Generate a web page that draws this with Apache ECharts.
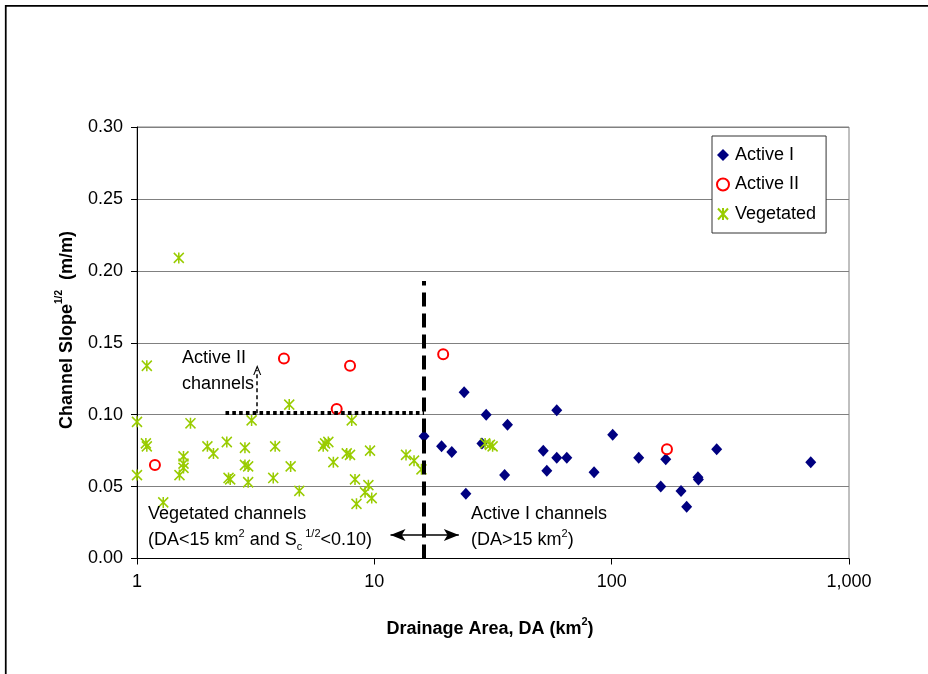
<!DOCTYPE html>
<html>
<head>
<meta charset="utf-8">
<script src="https://cdn.jsdelivr.net/npm/echarts@6/dist/echarts.min.js"></script>
<style>
  html, body { margin: 0; padding: 0; background: #fff; }
  #chart { width: 928px; height: 674px; }
</style>
</head>
<body>
<div id="chart"></div>
<script>
// Drainage area (km²) vs. channel slope^1/2 (m/m), one [DA, slope] pair per channel
const activeI = [
  [16.2, 0.085], [23.9, 0.1156], [29.6, 0.100], [58.7, 0.103], [36.4, 0.093],
  [19.2, 0.078], [21.2, 0.074], [28.4, 0.080], [51.5, 0.075], [58.7, 0.070],
  [64.7, 0.070], [53.3, 0.061], [35.4, 0.058], [24.3, 0.045], [101, 0.086],
  [130, 0.070], [169, 0.069], [277, 0.076], [84.3, 0.060], [161, 0.050],
  [196, 0.047], [207, 0.036], [231, 0.0565], [232, 0.055], [690, 0.067]
];
const activeII = [
  [1.19, 0.065], [4.16, 0.139], [7.90, 0.134], [6.94, 0.104], [19.5, 0.142], [171, 0.076]
];
const vegetated = [
  [1.00, 0.095], [1.68, 0.094], [3.04, 0.096], [1.09, 0.080], [1.10, 0.078],
  [1.98, 0.078], [2.10, 0.073], [2.39, 0.081], [2.85, 0.077], [3.82, 0.078],
  [1.57, 0.071], [1.57, 0.066], [1.57, 0.063], [1.51, 0.058], [1.00, 0.058],
  [2.85, 0.065], [2.94, 0.064], [2.43, 0.056], [2.47, 0.055], [2.94, 0.053],
  [3.75, 0.056], [1.29, 0.039], [1.50, 0.209], [1.10, 0.134], [4.38, 0.107],
  [8.03, 0.096], [6.20, 0.080], [6.40, 0.081], [6.09, 0.078], [7.65, 0.073],
  [7.90, 0.072], [9.59, 0.075], [6.72, 0.067], [4.44, 0.064], [8.29, 0.055],
  [9.44, 0.051], [9.14, 0.046], [9.75, 0.042], [8.41, 0.038], [4.83, 0.047],
  [13.6, 0.072], [14.7, 0.068], [15.8, 0.062], [29.3, 0.080], [30.7, 0.079],
  [31.5, 0.078]
];

// Axis ranges and tick labels
const xRange = [1, 1000];
const yRange = [0, 0.30];
const yStep = 0.05;
const xTickLabels = { 1: '1', 10: '10', 100: '100', 1000: '1,000' };

// Class thresholds drawn as guide lines
const daThreshold = 16.2;          // vertical split between vegetated and active I
const daThresholdTop = 0.193;
const slopeThreshold = 0.101;      // horizontal split for active II
const slopeThresholdStart = 2.36;
const activeIIArrowDA = 3.21;
const activeIIArrowTop = 0.131;
const rangeArrow = [11.7, 22.7];   // double arrow across the DA threshold
const rangeArrowY = 0.0163;

const FONT = '"Liberation Sans", Arial, sans-serif';
const asterisk = 'path://M0,0L10,11M10,0L0,11M5,-0.5L5,11.5';
const chevron = 'path://M0,10L5,0L10,10L8.6,10L5,2.8L1.4,10Z';

const chart = echarts.init(document.getElementById('chart'), null, { renderer: 'canvas' });

const option = {
  backgroundColor: '#fff',
  animation: false,
  textStyle: { fontFamily: FONT },
  grid: {
    left: 137, right: 79, top: 127, bottom: 115.5,
    show: true, borderColor: '#808080', borderWidth: 1, backgroundColor: 'transparent'
  },
  legend: {
    data: ['Active I', 'Active II', 'Vegetated'],
    orient: 'vertical',
    left: 712, top: 136,
    itemWidth: 12, itemHeight: 12, itemGap: 11.5,
    padding: [10, 10, 10, 4],
    backgroundColor: '#fff',
    borderColor: '#333', borderWidth: 1,
    textStyle: { fontFamily: FONT, fontSize: 18, color: '#000', padding: [0, 0, 0, 1] }
  },
  xAxis: {
    type: 'log', logBase: 10, min: xRange[0], max: xRange[1],
    axisLine: { lineStyle: { color: '#000', width: 1 } },
    axisTick: { show: true, inside: false, length: 6, lineStyle: { color: '#000' } },
    minorTick: { show: false },
    splitLine: { show: false },
    axisLabel: {
      margin: 15, fontSize: 18, color: '#000', fontFamily: FONT,
      formatter: v => xTickLabels[Math.round(v)] || ''
    }
  },
  yAxis: {
    type: 'value', min: yRange[0], max: yRange[1], interval: yStep,
    axisLine: { show: true, lineStyle: { color: '#000', width: 1 } },
    axisTick: { show: true, inside: false, length: 6, lineStyle: { color: '#000' } },
    splitLine: { show: true, lineStyle: { color: '#808080', width: 1 } },
    axisLabel: {
      margin: 14, fontSize: 18, color: '#000', fontFamily: FONT,
      formatter: v => v.toFixed(2)
    }
  },
  series: [
    {
      name: 'Active I', type: 'scatter', data: activeI,
      symbol: 'diamond', symbolSize: [11, 12],
      itemStyle: { color: '#000080', opacity: 1 },
      emphasis: { disabled: true }
    },
    {
      name: 'Active II', type: 'scatter', data: activeII,
      symbol: 'emptyCircle', symbolSize: 10,
      itemStyle: { color: '#FF0000', borderColor: '#FF0000', borderWidth: 1.6, opacity: 1 },
      emphasis: { disabled: true }
    },
    {
      name: 'Vegetated', type: 'scatter', data: vegetated,
      symbol: asterisk, symbolSize: [10, 11],
      itemStyle: { color: '#99CC00', borderColor: '#99CC00', borderWidth: 1.6, opacity: 1 },
      emphasis: { disabled: true }
    },
    {
      name: 'guides', type: 'scatter', data: [], z: 5,
      markLine: {
        silent: true, animation: false,
        label: { show: false },
        emphasis: { disabled: true },
        data: [
          [
            { coord: [daThreshold, yRange[0]], symbol: 'none',
              lineStyle: { color: '#000', width: 4, type: [14, 7] } },
            { coord: [daThreshold, daThresholdTop], symbol: 'none' }
          ],
          [
            { coord: [slopeThresholdStart, slopeThreshold], symbol: 'none',
              lineStyle: { color: '#000', width: 4, type: [3.6, 3.2] } },
            { coord: [daThreshold, slopeThreshold], symbol: 'none' }
          ],
          [
            { coord: [activeIIArrowDA, slopeThreshold], symbol: 'none',
              lineStyle: { color: '#000', width: 1.5, type: [4, 3] } },
            { coord: [activeIIArrowDA, activeIIArrowTop], symbol: chevron, symbolSize: [8, 10] }
          ],
          [
            { coord: [rangeArrow[0], rangeArrowY], symbol: 'arrow', symbolSize: [9, 15],
              lineStyle: { color: '#000', width: 1.5, type: 'solid' } },
            { coord: [rangeArrow[1], rangeArrowY], symbol: 'arrow', symbolSize: [9, 15] }
          ]
        ]
      }
    }
  ],
  graphic: [
    // outer frame
    {
      type: 'rect', z: 100, silent: true,
      shape: { x: 5.75, y: 5.75, width: 1000, height: 1000 },
      style: { fill: 'none', stroke: '#000', lineWidth: 1.75 }
    },
    // axis titles
    {
      type: 'text', z: 100, silent: true, x: 490, y: 627,
      style: {
        text: '{b|Drainage Area, DA (km}{s|2}{b|)}',
        align: 'center', verticalAlign: 'middle',
        rich: {
          b: { fontFamily: FONT, fontSize: 18, fontWeight: 'bold', fill: '#000', lineHeight: 22, verticalAlign: 'bottom' },
          s: { fontFamily: FONT, fontSize: 11, fontWeight: 'bold', fill: '#000', lineHeight: 22, verticalAlign: 'top' }
        }
      }
    },
    {
      type: 'text', z: 100, silent: true, x: 65, y: 330, rotation: Math.PI / 2,
      style: {
        text: '{b|Channel Slope}{s|1/2}{b|  (m/m)}',
        align: 'center', verticalAlign: 'middle',
        rich: {
          b: { fontFamily: FONT, fontSize: 18, fontWeight: 'bold', fill: '#000', lineHeight: 22, verticalAlign: 'bottom' },
          s: { fontFamily: FONT, fontSize: 10, fontWeight: 'bold', fill: '#000', lineHeight: 22, verticalAlign: 'top' }
        }
      }
    },
    // class annotations
    {
      type: 'text', z: 100, silent: true, x: 182, y: 358,
      style: { text: 'Active II', font: '18px ' + FONT, fill: '#000', verticalAlign: 'middle' }
    },
    {
      type: 'text', z: 100, silent: true, x: 182, y: 384,
      style: { text: 'channels', font: '18px ' + FONT, fill: '#000', verticalAlign: 'middle' }
    },
    {
      type: 'text', z: 100, silent: true, x: 148, y: 514,
      style: { text: 'Vegetated channels', font: '18px ' + FONT, fill: '#000', verticalAlign: 'middle' }
    },
    {
      type: 'text', z: 100, silent: true, x: 148, y: 540,
      style: {
        text: '{a|(DA<15 km}{p|2}{a| and S}{c|c}{p| 1/2}{a|<0.10)}',
        verticalAlign: 'middle',
        rich: {
          a: { fontFamily: FONT, fontSize: 18, fill: '#000', lineHeight: 24, verticalAlign: 'middle' },
          p: { fontFamily: FONT, fontSize: 11, fill: '#000', lineHeight: 24, verticalAlign: 'top' },
          c: { fontFamily: FONT, fontSize: 11, fill: '#000', lineHeight: 22, verticalAlign: 'bottom' }
        }
      }
    },
    {
      type: 'text', z: 100, silent: true, x: 471, y: 514,
      style: { text: 'Active I channels', font: '18px ' + FONT, fill: '#000', verticalAlign: 'middle' }
    },
    {
      type: 'text', z: 100, silent: true, x: 471, y: 540,
      style: {
        text: '{a|(DA>15 km}{p|2}{a|)}',
        verticalAlign: 'middle',
        rich: {
          a: { fontFamily: FONT, fontSize: 18, fill: '#000', lineHeight: 24, verticalAlign: 'middle' },
          p: { fontFamily: FONT, fontSize: 11, fill: '#000', lineHeight: 24, verticalAlign: 'top' }
        }
      }
    }
  ]
};

chart.setOption(option);
</script>
</body>
</html>
